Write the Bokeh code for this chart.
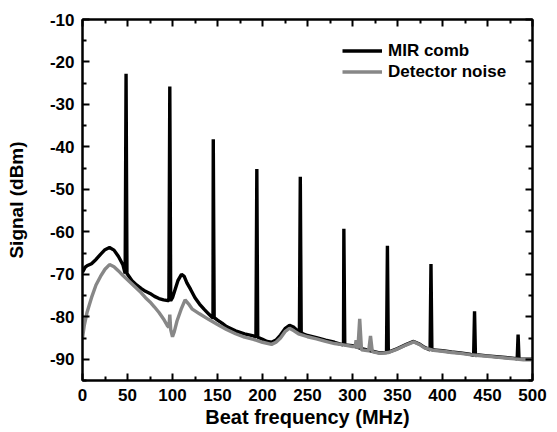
import numpy as np
from bokeh.plotting import figure
from bokeh.models import Range1d, LinearAxis, FixedTicker, Legend, LegendItem
from bokeh.embed import file_html
from bokeh.resources import INLINE

# ---------------- data ----------------
# MIR comb: smooth background level (MHz, dBm)
comb_freq = [0, 3, 5, 10, 15, 20, 25, 30, 35, 40, 45, 50, 55, 60, 65, 70, 75, 80, 85, 90, 95,
             100, 103, 106, 110, 113, 116, 120, 125, 130, 135, 140, 145, 150, 155, 160, 170, 180,
             190, 200, 205, 210, 215, 220, 225, 230, 235, 240, 245, 250, 260, 270, 280, 290, 300,
             310, 320, 330, 340, 350, 360, 368, 375, 380, 390, 400, 410, 420, 430, 440, 450, 460,
             470, 480, 490, 500]
comb_level = [-69.5, -68.3, -68.0, -67.5, -66.5, -65.3, -64.2, -63.7, -64.3, -65.8, -67.8, -70.0,
              -71.5, -72.5, -73.3, -74.0, -74.5, -75.2, -75.7, -76.0, -76.2, -75.5, -73.5, -71.5,
              -70.0, -70.5, -72.0, -73.5, -75.5, -77.0, -78.2, -79.3, -80.2, -80.8, -81.5, -82.3,
              -83.3, -84.0, -84.5, -85.3, -85.8, -86.0, -85.5, -84.3, -82.8, -82.0, -82.5, -83.5,
              -84.0, -84.4, -84.9, -85.5, -86.0, -86.4, -86.8, -87.5, -88.0, -88.5, -88.3, -87.5,
              -86.5, -85.8, -86.5, -87.2, -87.8, -88.0, -88.3, -88.5, -88.8, -89.0, -89.2, -89.4,
              -89.6, -89.8, -90.0, -90.0]

# MIR comb: beat-note peaks
peak_freq = [48.4, 97.0, 145.3, 193.7, 242.0, 290.4, 338.8, 387.2, 435.6, 484.0]
peak_level = [-22.8, -25.8, -38.2, -45.2, -47.0, -59.3, -63.3, -67.6, -78.7, -84.2]
peak_floor = [-69.8, -76.2, -80.2, -84.8, -83.7, -86.6, -88.4, -87.8, -89.1, -89.9]

# Detector noise
noise_freq = [0, 2, 5, 10, 15, 20, 25, 30, 35, 40, 45, 50, 55, 60, 65, 70, 75, 80, 85, 90, 94,
              96, 97, 98, 100, 102, 105, 110, 114, 118, 122, 130, 140, 150, 160, 170, 180, 190,
              200, 210, 215, 220, 225, 230, 235, 240, 250, 260, 270, 280, 290, 300, 303, 304,
              306, 308, 310, 318, 320, 322, 330, 340, 350, 360, 368, 375, 380, 390, 400, 410,
              420, 430, 440, 450, 460, 470, 480, 490, 500]
noise_level = [-85.0, -82.0, -79.0, -75.5, -72.5, -70.5, -68.8, -67.7, -68.2, -69.2, -70.3, -71.3,
               -72.3, -73.3, -74.3, -75.5, -76.5, -77.7, -79.0, -80.5, -82.0, -82.5, -79.5, -83.0,
               -84.7, -83.5, -81.0, -78.0, -76.0, -77.0, -78.2, -79.3, -80.6, -81.8, -83.0, -84.0,
               -84.8, -85.3, -86.0, -86.5, -86.0, -85.0, -83.5, -82.7, -83.3, -84.0, -84.7, -85.2,
               -85.8, -86.3, -86.6, -87.0, -87.0, -85.5, -87.5, -80.5, -87.8, -88.0, -84.5, -88.2,
               -88.6, -88.4, -87.6, -86.6, -85.9, -86.6, -87.3, -87.9, -88.1, -88.4, -88.6, -88.9,
               -89.1, -89.3, -89.5, -89.7, -89.9, -90.1, -90.1]

x_ticks = [0, 50, 100, 150, 200, 250, 300, 350, 400, 450, 500]
x_tick_labels = ["0", "50", "100", "150", "200", "250", "300", "350", "400", "450", "500"]
x_minor = [25, 75, 125, 175, 225, 275, 325, 375, 425, 475]
y_ticks = [-90, -80, -70, -60, -50, -40, -30, -20, -10]
y_tick_labels = ["-90", "-80", "-70", "-60", "-50", "-40", "-30", "-20", "-10"]
y_minor = [-95, -85, -75, -65, -55, -45, -35, -25, -15]

# ---------------- build the comb trace (background + peaks) ----------------
HALF = 1.0  # half width of a peak, MHz (style)
fx = list(comb_freq)
fy = list(comb_level)
for f, top, base in zip(peak_freq, peak_level, peak_floor):
    fx += [f - HALF, f, f + HALF]
    fy += [base, top, base]
order = np.argsort(np.array(fx), kind="stable")
comb_x = np.array(fx)[order]
comb_y = np.array(fy)[order]

FONT = "Liberation Sans"

p = figure(width=557, height=432, output_backend="svg", toolbar_location=None,
           x_range=Range1d(0, 500), y_range=Range1d(-95, -10),
           min_border_left=82, min_border_right=25, min_border_top=19, min_border_bottom=52,
           x_axis_label="Beat frequency (MHz)", y_axis_label="Signal (dBm)")
p.background_fill_color = "white"
p.border_fill_color = "white"
p.outline_line_color = "black"
p.outline_line_width = 2
p.xgrid.visible = False
p.ygrid.visible = False

r_comb = p.line(comb_x, comb_y, line_color="black", line_width=3.4)
r_noise = p.line(noise_freq, noise_level, line_color="#878787", line_width=3.4)

xt = FixedTicker(ticks=x_ticks, minor_ticks=x_minor)
yt = FixedTicker(ticks=y_ticks, minor_ticks=y_minor)


def style_axis(ax, ticker, labels, show_labels=True, label_size="19px"):
    ax.ticker = ticker
    ax.axis_line_width = 2
    ax.axis_line_color = "black"
    ax.major_tick_in = 7
    ax.major_tick_out = 0
    ax.minor_tick_in = 4
    ax.minor_tick_out = 0
    ax.major_tick_line_width = 2
    ax.minor_tick_line_width = 2
    ax.major_tick_line_color = "black"
    ax.minor_tick_line_color = "black"
    if show_labels:
        ax.major_label_overrides = {t: s for t, s in zip(ticker.ticks, labels)}
        ax.major_label_text_font = FONT
        ax.major_label_text_font_style = "bold"
        ax.major_label_text_font_size = "17px"
        ax.major_label_text_color = "black"
        ax.axis_label_text_font = FONT
        ax.axis_label_text_font_style = "bold"
        ax.axis_label_text_font_size = label_size
        ax.axis_label_text_color = "black"
    else:
        ax.major_label_text_font_size = "0px"
        ax.major_label_text_color = None
        ax.major_label_standoff = 0


style_axis(p.xaxis[0], xt, x_tick_labels, label_size="20px")
style_axis(p.yaxis[0], yt, y_tick_labels, label_size="19px")
p.xaxis[0].major_label_standoff = 8
p.xaxis[0].axis_label_standoff = 2
p.yaxis[0].major_label_standoff = 8
p.yaxis[0].axis_label_standoff = 20

top_ax = LinearAxis()
right_ax = LinearAxis()
style_axis(top_ax, xt, None, show_labels=False)
style_axis(right_ax, yt, None, show_labels=False)
p.add_layout(top_ax, "above")
p.add_layout(right_ax, "right")

legend = Legend(items=[LegendItem(label="MIR comb", renderers=[r_comb]),
                       LegendItem(label="Detector noise", renderers=[r_noise])],
                location=(260, 298))
legend.background_fill_alpha = 0
legend.border_line_color = None
legend.padding = 0
legend.margin = 0
legend.spacing = 0
legend.glyph_width = 40
legend.glyph_height = 21
legend.label_height = 21
legend.label_standoff = 6
legend.label_text_font = FONT
legend.label_text_font_style = "bold"
legend.label_text_font_size = "17px"
legend.label_text_color = "black"
legend.label_text_baseline = "middle"
p.add_layout(legend, "center")

open("out.html", "w").write(file_html(p, INLINE))
